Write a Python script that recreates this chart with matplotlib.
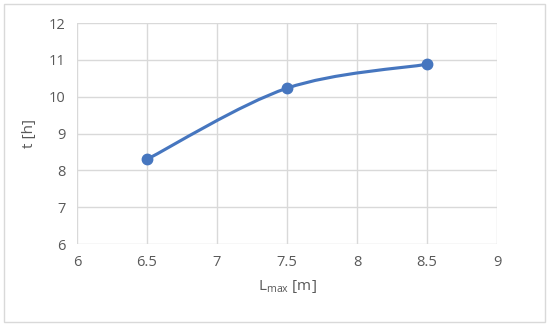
import matplotlib
matplotlib.use("Agg")
import matplotlib.pyplot as plt
import numpy as np
from matplotlib.path import Path
from matplotlib.patches import PathPatch, Rectangle

x_vals = [6.5, 7.5, 8.5]
t_vals = [8.30, 10.23, 10.88]
x_ticks = [6, 6.5, 7, 7.5, 8, 8.5, 9]
x_tick_labels = ["6", "6.5", "7", "7.5", "8", "8.5", "9"]
y_ticks = [6, 7, 8, 9, 10, 11, 12]

plt.rcParams['font.family'] = ['Open Sans', 'DejaVu Sans']
TXT = '#595959'
BLUE = '#4676BF'
GRID = '#D9D9D9'

fig = plt.figure(figsize=(5.5, 3.26), dpi=100)
ax = fig.add_axes([77/550, 1-244/326, (497-77)/550, (244-23)/326])

# Excel-style smoothed line (cubic Bezier)
P = np.column_stack([x_vals, t_vals])
n = len(P)
verts = [tuple(P[0])]
codes = [Path.MOVETO]
for i in range(n - 1):
    p_prev = P[i - 1] if i > 0 else P[i]
    p_next2 = P[i + 2] if i + 2 < n else P[i + 1]
    c1 = P[i] + (P[i + 1] - p_prev) / 6
    c2 = P[i + 1] - (p_next2 - P[i]) / 6
    verts += [tuple(c1), tuple(c2), tuple(P[i + 1])]
    codes += [Path.CURVE4] * 3
ax.add_patch(PathPatch(Path(verts, codes), facecolor='none', edgecolor=BLUE,
                       lw=2.25, capstyle='round', zorder=3))
ax.plot(x_vals, t_vals, 'o', color=BLUE, ms=7.5, zorder=4)

ax.set_xlim(6, 9)
ax.set_ylim(6, 12)
ax.set_xticks(x_ticks)
ax.set_xticklabels(x_tick_labels)
ax.set_yticks(y_ticks)
for s in ax.spines.values():
    s.set_visible(False)
ax.grid(True, color=GRID, lw=1.0)
ax.set_axisbelow(True)
ax.tick_params(length=0, labelsize=10.5, colors=TXT, pad=8)

ax.set_xlabel('L$_{\\mathregular{max}}$ [m]', fontsize=11, color=TXT, labelpad=6)
ax.set_ylabel('t [h]', fontsize=11, color=TXT, labelpad=9)

fig.patches.append(Rectangle((4/550, 4/326), 541/550, 318/326, transform=fig.transFigure,
                             facecolor='none', edgecolor='#D9D9D9', lw=1.0))

fig.savefig('out.png', dpi=100)
